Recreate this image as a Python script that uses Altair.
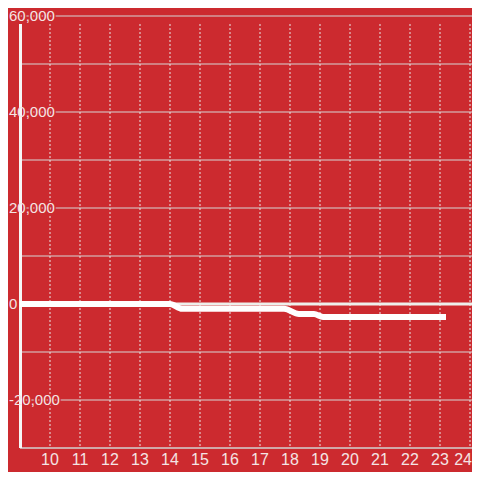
import altair as alt
import pandas as pd

# ---- data ----
hours = [9, 10, 11, 12, 13, 14, 14.4, 15, 16, 17, 17.8, 18.3, 18.8, 19.1, 20, 21, 22, 23.2]
values = [0, 0, 0, 0, 0, 0, -1000, -1000, -1000, -1000, -1000, -2100, -2100, -2700, -2700, -2700, -2700, -2700]
y_grid = [-30000, -20000, -10000, 10000, 20000, 30000, 40000, 50000, 60000]
y_labels = [-20000, 0, 20000, 40000, 60000]
x_ticks = [10, 11, 12, 13, 14, 15, 16, 17, 18, 19, 20, 21, 22, 23, 24]

BG = "#cc2a2f"
TXT = "#f4e4e4"
W, H = 452, 432

line_df = pd.DataFrame({"t": hours, "v": values})
grid_df = pd.DataFrame({"v": y_grid})
lab_df = pd.DataFrame({"v": y_labels, "label": [f"{v:,}" for v in y_labels]})
xt_df = pd.DataFrame({"t": x_ticks, "label": [str(t) for t in x_ticks]})

xs = alt.Scale(domain=[9, 9 + W / 30], nice=False, zero=False)
ys = alt.Scale(domain=[-30000, 60000], nice=False, zero=False)

X = lambda f: alt.X(f, scale=xs, axis=None)
Y = lambda f: alt.Y(f, scale=ys, axis=None)

hgrid = alt.Chart(grid_df).mark_rule(color="#d6d6d6", strokeWidth=1).encode(
    y=Y("v:Q"), x=alt.value(0), x2=alt.value(W)
)
vgrid = alt.Chart(xt_df).mark_rule(color="#e8e8e8", strokeWidth=1, strokeDash=[2, 2]).encode(
    x=X("t:Q"), y=alt.value(8), y2=alt.value(H)
)
zero = alt.Chart(pd.DataFrame({"v": [0]})).mark_rule(color="#eef0ec", strokeWidth=3).encode(
    y=Y("v:Q"), x=alt.value(0), x2=alt.value(W)
)
xline = alt.Chart(pd.DataFrame({"v": [-30000]})).mark_rule(color="#cfcfcf", strokeWidth=1).encode(
    y=Y("v:Q"), x=alt.value(0), x2=alt.value(W)
)
LX = -11
halo = alt.Chart(lab_df).mark_text(
    align="left", baseline="middle", font="Liberation Sans", fontSize=15,
    stroke=BG, strokeWidth=3, fill=BG
).encode(y=Y("v:Q"), x=alt.value(LX), text="label:N")
yaxis = alt.Chart(pd.DataFrame({"v": [0]})).mark_rule(color="#f6f6f6", strokeWidth=3).encode(
    x=alt.value(0.5), y=alt.value(8), y2=alt.value(H)
)
labels = alt.Chart(lab_df).mark_text(
    align="left", baseline="middle", font="Liberation Sans", fontSize=15, color=TXT
).encode(y=Y("v:Q"), x=alt.value(LX), text="label:N")
line = alt.Chart(line_df).mark_line(color="white", strokeWidth=6, interpolate="monotone").encode(
    x=X("t:Q"), y=Y("v:Q")
)
xlabels = alt.Chart(xt_df).transform_filter("datum.t < 24").mark_text(
    align="center", baseline="middle", font="Liberation Sans", fontSize=16, color=TXT
).encode(x=X("t:Q"), y=alt.value(H + 12), text="label:N")
xlabel_last = alt.Chart(xt_df).transform_filter("datum.t >= 24").mark_text(
    align="right", baseline="middle", font="Liberation Sans", fontSize=16, color=TXT
).encode(x=alt.value(W), y=alt.value(H + 12), text="label:N")

chart = alt.layer(hgrid, vgrid, zero, xline, halo, yaxis, labels, line, xlabels, xlabel_last).properties(
    width=W, height=H, background=BG,
    padding={"left": 12, "top": 8, "right": 0, "bottom": 24},
    autosize=alt.AutoSizeParams(type="none"),
).configure_view(stroke=None)

chart.save("out.html", embed_options={"renderer": "svg", "actions": False})
